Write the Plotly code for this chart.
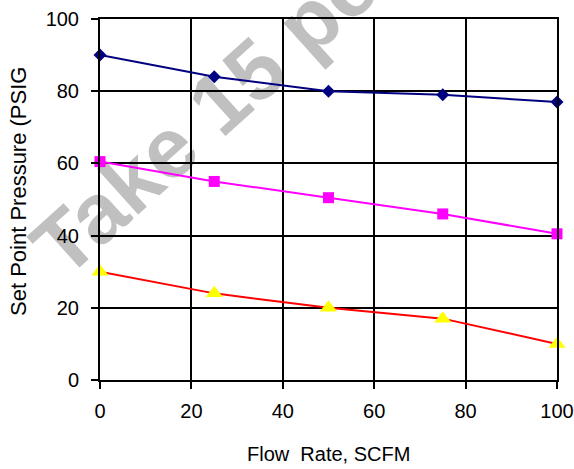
import plotly.graph_objects as go

flow_rate = [0, 25, 50, 75, 100]
series_high = [90, 84, 80, 79, 77]
series_mid = [60.5, 55, 50.5, 46, 40.5]
series_low = [30, 24, 20, 17, 10]
x_ticks = [0, 20, 40, 60, 80, 100]
y_ticks = [0, 20, 40, 60, 80, 100]
x_title = "Flow  Rate, SCFM"
y_title = "Set Point Pressure (PSIG"
watermark = "Take 15 percent"

FONT = "Liberation Sans, Arial, sans-serif"
W, H = 574, 469
L, R, T, B = 100, 17, 19, 89
pw, ph = W - L - R, H - T - B

def px(x):
    return (x - L) / pw

def py(y):
    return (H - B - y) / ph

fig = go.Figure()
fig.add_trace(go.Scatter(x=flow_rate, y=series_high, mode="lines+markers", cliponaxis=False,
                         line=dict(color="#000080", width=2),
                         marker=dict(symbol="diamond", size=10, color="#000080")))
fig.add_trace(go.Scatter(x=flow_rate, y=series_mid, mode="lines+markers", cliponaxis=False,
                         line=dict(color="#FF00FF", width=2),
                         marker=dict(symbol="square", size=11, color="#FF00FF")))
fig.add_trace(go.Scatter(x=flow_rate, y=series_low, mode="lines+markers", cliponaxis=False,
                         line=dict(color="#FF0000", width=2),
                         marker=dict(symbol="triangle-up", size=15, color="#FFFF00")))

axis_common = dict(showline=True, linecolor="black", linewidth=2, mirror=True,
                   showgrid=True, gridcolor="black", gridwidth=2, automargin=False,
                   ticks="outside", ticklen=7, tickwidth=2, tickcolor="black",
                   zeroline=False, tickfont=dict(family=FONT, size=20, color="black"))

fig.update_xaxes(range=[0, 100], tickvals=x_ticks, ticktext=[str(v) for v in x_ticks],
                 ticklabelstandoff=5, **axis_common)
fig.update_yaxes(range=[0, 100], tickvals=y_ticks, ticktext=[str(v) for v in y_ticks],
                 ticklabelstandoff=8, **axis_common)

# watermark, drawn beneath grid and traces
cx, cy = 276, 40
ux, uy = 0.743, -0.669
d = 50
fig.add_shape(type="line", xref="paper", yref="paper", layer="below",
              x0=px(cx - d * ux), y0=py(cy - d * uy), x1=px(cx + d * ux), y1=py(cy + d * uy),
              line=dict(width=0, color="rgba(0,0,0,0)"),
              label=dict(text=watermark, textangle=-42, textposition="middle",
                         xanchor="center", yanchor="middle",
                         font=dict(family=FONT, size=85, color="#C0C0C0", weight="bold")))

fig.add_annotation(text=y_title, xref="paper", yref="paper", x=px(18), y=py(192),
                   xanchor="center", yanchor="middle", textangle=-90, showarrow=False,
                   font=dict(family=FONT, size=22, color="black"))
fig.add_annotation(text=x_title, xref="paper", yref="paper", x=px(328), y=py(454),
                   xanchor="center", yanchor="middle", showarrow=False,
                   font=dict(family=FONT, size=20, color="black"))

fig.update_layout(width=W, height=H, margin=dict(l=L, r=R, t=T, b=B, autoexpand=False),
                  showlegend=False, plot_bgcolor="rgba(0,0,0,0)", paper_bgcolor="white",
                  hovermode=False)

fig.write_html("out.html", config={"displayModeBar": False, "staticPlot": True},
               post_script="document.body.style.margin='0';document.body.style.overflow='hidden';")
